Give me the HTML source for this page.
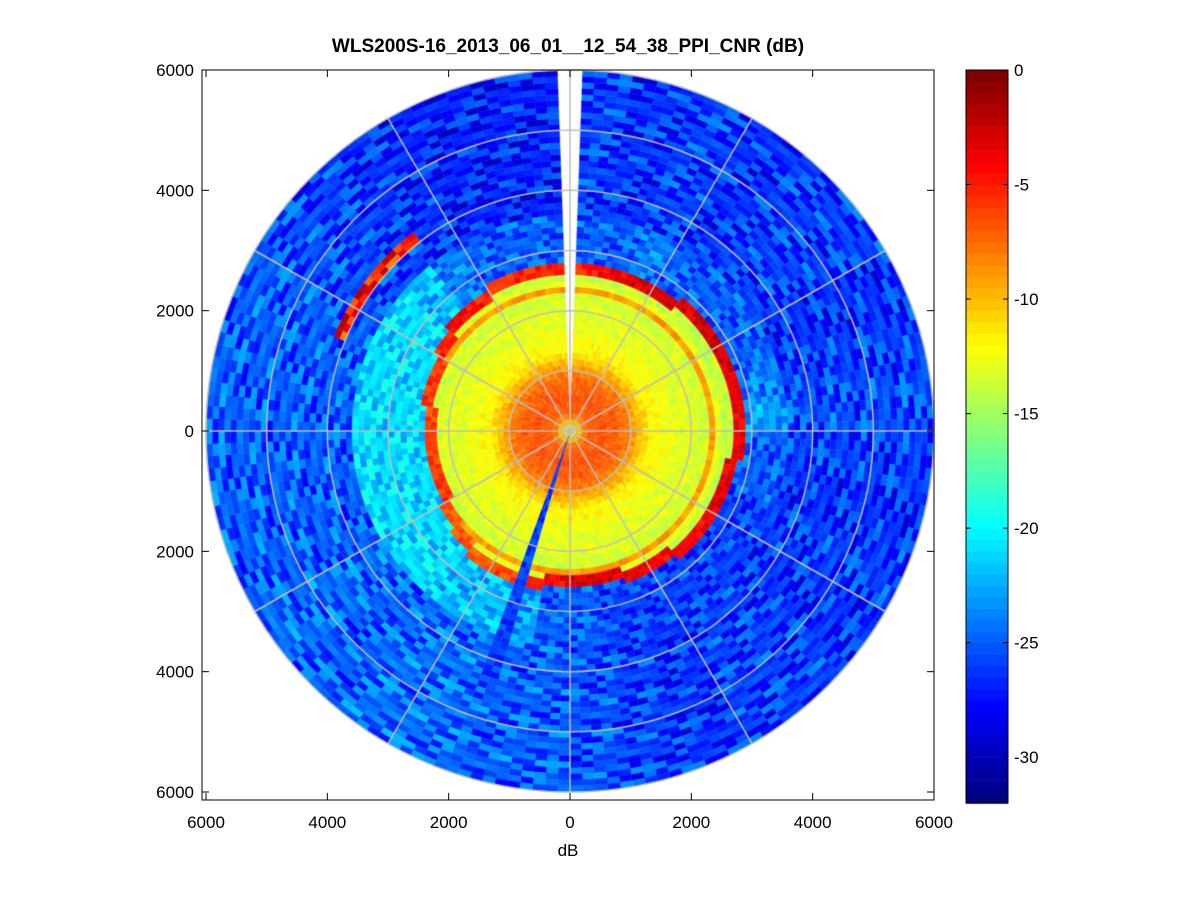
<!DOCTYPE html>
<html><head><meta charset="utf-8">
<style>
body{margin:0;background:#fff;}
#wrap{position:relative;width:1201px;height:901px;background:#fff;font-family:"Liberation Sans",Arial,sans-serif;}
canvas{position:absolute;left:0;top:0;}
</style></head>
<body>
<div id="wrap">
<canvas id="c" width="1201" height="901"></canvas>
<svg id="s" width="1201" height="901" style="position:absolute;left:0;top:0"></svg>
</div>
<script>
// ---- data ----
const rangeStep = 100;              // m per gate
const azStep = 2;                   // degrees per ray
const profile = [-12,-10,-8,-7,-7,-6.5,-7,-7,-7.5,-8,-9,-10,-11,-12,-12,-12.5,-12.5,-13,-13,-13,-13,-13.5,-13.5,-9,-13,-14,-14];  // CNR vs range inside ring
const ringR = [2750,2750,2750,2800,2850,2850,2850,2850,2850,2850,2800,2800,2800,2750,2700,2650,2600,2600,2600,2650,2700,2650,2550,2450,2400,2400,2400,2400,2450,2500,2550,2650,2700,2750,2750,2750];
const ringLvl = [-5,-4,-3,-3,-3,-3,-3,-3.5,-3.5,-3.5,-3.5,-3.5,-4,-4,-4,-3.5,-3,-3,-4,-5,-6,-7,-7,-7,-6,-6,-6,-6,-6,-6,-5,-4,-5,-6,-5,-5];
const outerNear = [-25,-25,-24,-25,-25,-25,-25,-24,-23,-25,-25,-26,-26,-26,-26,-26,-26,-25,-25,-23,-22,-22,-21,-21,-21,-21,-21,-21,-21,-21,-21,-22,-24,-25,-25,-25];
const outerFar = [-26,-26.5,-26,-26.5,-26,-26,-26.5,-26,-25.5,-26,-26.5,-26,-26.5,-26,-26,-26.5,-26,-25.5,-25,-25,-24.5,-24.5,-25,-24.5,-25,-25,-25,-25,-25,-25,-25.5,-26,-26.5,-27,-27,-27];
const noise = [1.2,-0.8,2.1,-2.4,0.3,1.7,-1.5,0.9,-0.2,2.6,-1.9,0.6,-2.8,1.4,-0.5,2.0,-1.1,0.1,1.9,-2.2,0.8,-0.9,2.4,-1.6,0.4,-2.6,1.1,-0.3,1.6,-1.3,2.8,-2.0,0.7,-0.7,1.3,-2.9,0.2,2.2,-1.4,0.5,-0.1,1.8,-2.5,1.0,-1.7,2.5,-0.6,0.0,-1.0,1.5];
const arcAz = [292,322]; const arcR = [4000,4150]; const arcLvl = -5;
const gapAz = [358,2];
const beamAz = [196,200]; const beamLvl = -26;
const xTicks = [-6000,-4000,-2000,0,2000,4000,6000];
const yTicks = [-6000,-4000,-2000,0,2000,4000,6000];
const cbTicks = [0,-5,-10,-15,-20,-25,-30];
const cMin = -32, cMax = 0;

// ---- geometry ----
const cx=570, cy=431, sx=364/6000, sy=361/6000;
const X=v=>cx+v*sx, Y=v=>cy-v*sy;
function jet(t){t=Math.max(0,Math.min(1,t));
 const r=Math.max(0,Math.min(1,1.5-Math.abs(4*t-3))),g=Math.max(0,Math.min(1,1.5-Math.abs(4*t-2))),b=Math.max(0,Math.min(1,1.5-Math.abs(4*t-1)));
 return `rgb(${Math.round(r*255)},${Math.round(g*255)},${Math.round(b*255)})`;}
function col(v){const t=(v-cMin)/(cMax-cMin);return jet(Math.floor(t*63.999)/63);}

const ctx=document.getElementById('c').getContext('2d');
const nA=360/azStep, nR=6000/rangeStep;
for(let a=0;a<nA;a++){
 const az=a*azStep+azStep/2, s=Math.floor(az/10);
 if(az>=gapAz[0]||az<=gapAz[1]) continue;
 const t0=a*azStep*Math.PI/180, t1=(a+1)*azStep*Math.PI/180;
 for(let r=0;r<nR;r++){
  const R0=r*rangeStep, R1=R0+rangeStep, R=R0+rangeStep/2;
  const n=noise[(a*7+r*3)%noise.length];
  let v;
  if(R<ringR[s]-150){v=profile[Math.min(r,profile.length-1)]+n*0.3;}
  else if(R<ringR[s]+50){v=ringLvl[s]+n*0.4;}
  else if(R<3600){v=outerNear[s]+n*0.8;}
  else {v=outerFar[s]+n;}
  if(az>=arcAz[0]&&az<=arcAz[1]&&R>=arcR[0]&&R<=arcR[1]) v=arcLvl+n*1.2;
  if(az>=beamAz[0]&&az<=beamAz[1]&&R<4500) v=beamLvl+n*0.5;
  v=Math.max(cMin,Math.min(cMax,v));
  ctx.fillStyle=col(v);
  ctx.beginPath();
  ctx.moveTo(X(R0*Math.sin(t0)),Y(R0*Math.cos(t0)));
  ctx.lineTo(X(R1*Math.sin(t0)),Y(R1*Math.cos(t0)));
  ctx.lineTo(X(R1*Math.sin(t1)),Y(R1*Math.cos(t1)));
  ctx.lineTo(X(R0*Math.sin(t1)),Y(R0*Math.cos(t1)));
  ctx.closePath();ctx.fill();ctx.strokeStyle=ctx.fillStyle;ctx.lineWidth=0.5;ctx.stroke();
 }
}
// grid
ctx.strokeStyle='#bdbdbd';ctx.lineWidth=1.5;
for(let k=1;k<=6;k++){ctx.beginPath();ctx.ellipse(cx,cy,k*1000*sx,k*1000*sy,0,0,2*Math.PI);ctx.stroke();}
for(let d=0;d<180;d+=30){const t=d*Math.PI/180;ctx.beginPath();
 ctx.moveTo(X(6000*Math.sin(t)),Y(6000*Math.cos(t)));ctx.lineTo(X(-6000*Math.sin(t)),Y(-6000*Math.cos(t)));ctx.stroke();}
// colorbar
const cbx=966,cbw=42,cbt=70,cbb=803;
for(let i=0;i<64;i++){const y0=cbb-(i+1)*(cbb-cbt)/64;ctx.fillStyle=jet(i/63);ctx.fillRect(cbx,y0,cbw,(cbb-cbt)/64+0.6);}

const svg=document.getElementById('s');const NS='http://www.w3.org/2000/svg';
function el(tag,attrs,text){const e=document.createElementNS(NS,tag);for(const k in attrs)e.setAttribute(k,attrs[k]);if(text!==undefined)e.textContent=text;svg.appendChild(e);return e;}
const L=202,Rr=934,T=70,B=800;
let e=el('rect',{x:L,y:T,width:Rr-L,height:B-T,fill:'none',stroke:'#000','stroke-width':1});


xTicks.forEach(v=>{const x=X(v);
 el('line',{x1:x,x2:x,y1:B,y2:B-7,stroke:'#000'});el('line',{x1:x,x2:x,y1:T,y2:T+7,stroke:'#000'});
 const t=el('text',{x:x,y:B+28,'text-anchor':'middle','font-size':17},String(Math.abs(v)));
 
 });
yTicks.forEach(v=>{const y=Y(v);
 el('line',{x1:L,x2:L+7,y1:y,y2:y,stroke:'#000'});el('line',{x1:Rr,x2:Rr-7,y1:y,y2:y,stroke:'#000'});
 const t=el('text',{x:L-8,y:y+6,'text-anchor':'end','font-size':17},String(Math.abs(v)));
 
 });
e=el('rect',{x:cbx,y:cbt,width:cbw,height:cbb-cbt,fill:'none',stroke:'#000'});


cbTicks.forEach(v=>{const y=cbb-(v-cMin)/(cMax-cMin)*(cbb-cbt);
 el('line',{x1:cbx,x2:cbx+5,y1:y,y2:y,stroke:'#000'});el('line',{x1:cbx+cbw,x2:cbx+cbw-5,y1:y,y2:y,stroke:'#000'});
 const t=el('text',{x:cbx+cbw+6,y:y+6,'font-size':17},String(v));
 
 });
e=el('text',{x:568,y:52,'text-anchor':'middle','font-size':19,'font-weight':'bold'},'WLS200S-16_2013_06_01__12_54_38_PPI_CNR (dB)');


e=el('text',{x:568,y:856,'text-anchor':'middle','font-size':17},'dB');


</script>
</body></html>
